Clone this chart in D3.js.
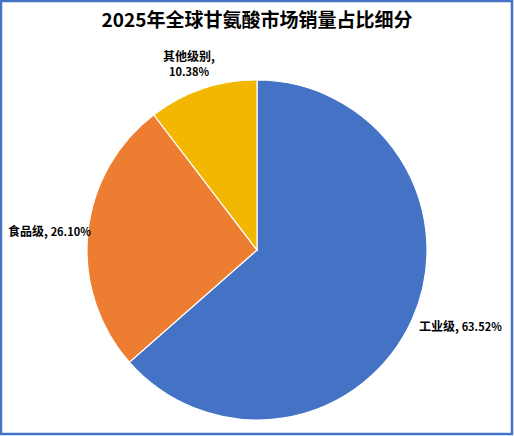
<!DOCTYPE html>
<html>
<head>
<meta charset="utf-8">
<script src="https://cdn.jsdelivr.net/npm/d3@7"></script>
<style>
  html, body { margin: 0; padding: 0; background: #fff; }
  #chart-container { width: 514px; height: 436px; }
</style>
</head>
<body>
<div id="chart-container"></div>
<script>
const categories = ['工业级', '食品级', '其他级别'];
const shares = [63.52, 26.10, 10.38];
const colors = ['#4472C4', '#ED7D31', '#F2B700'];
const title = '2025年全球甘氨酸市场销量占比细分';

document.addEventListener('DOMContentLoaded', () => {
    const width = 514, height = 436;
    const cx = 257, cy = 250, radius = 170;

    const svg = d3.select('#chart-container')
        .append('svg')
        .attr('width', width)
        .attr('height', height)
        .style('font-family', '"Noto Sans CJK SC", "Microsoft YaHei", sans-serif');

    // frame
    svg.append('rect')
        .attr('x', 1).attr('y', 1)
        .attr('width', width - 3).attr('height', height - 3)
        .attr('fill', '#fff')
        .attr('stroke', '#4472C4')
        .attr('stroke-width', 2.5);

    svg.append('text')
        .attr('x', width / 2)
        .attr('y', 27)
        .attr('text-anchor', 'middle')
        .attr('font-size', 19)
        .attr('font-weight', 'bold')
        .attr('fill', '#000')
        .text(title);

    const data = categories.map((c, i) => ({ name: c, value: shares[i], color: colors[i] }));

    const pie = d3.pie().value(d => d.value).sort(null);
    const arc = d3.arc().innerRadius(0).outerRadius(radius);

    const g = svg.append('g').attr('transform', `translate(${cx},${cy})`);

    g.selectAll('path')
        .data(pie(data))
        .enter().append('path')
        .attr('d', arc)
        .attr('fill', d => d.data.color)
        .attr('stroke', '#fff')
        .attr('stroke-width', 1.2);

    // label positions (pixel offsets from chart)
    const labelPos = [
        { x: 419, y: 331, anchor: 'start', twoLine: false },
        { x: 8, y: 236, anchor: 'start', twoLine: false },
        { x: 189, y: 61, anchor: 'middle', twoLine: true }
    ];

    data.forEach((d, i) => {
        const p = labelPos[i];
        const t = svg.append('text')
            .attr('x', p.x)
            .attr('y', p.y)
            .attr('text-anchor', p.anchor)
            .attr('font-weight', 'bold')
            .attr('fill', '#000');
        const pct = d.value.toFixed(2) + '%';
        if (p.twoLine) {
            t.append('tspan').attr('font-size', 12).text(d.name + ',');
            t.append('tspan').attr('x', p.x).attr('dy', 15).attr('font-size', 11).text(pct);
        } else {
            t.append('tspan').attr('font-size', 12).text(d.name + ', ');
            t.append('tspan').attr('font-size', 11).text(pct);
        }
    });
});
</script>
</body>
</html>
